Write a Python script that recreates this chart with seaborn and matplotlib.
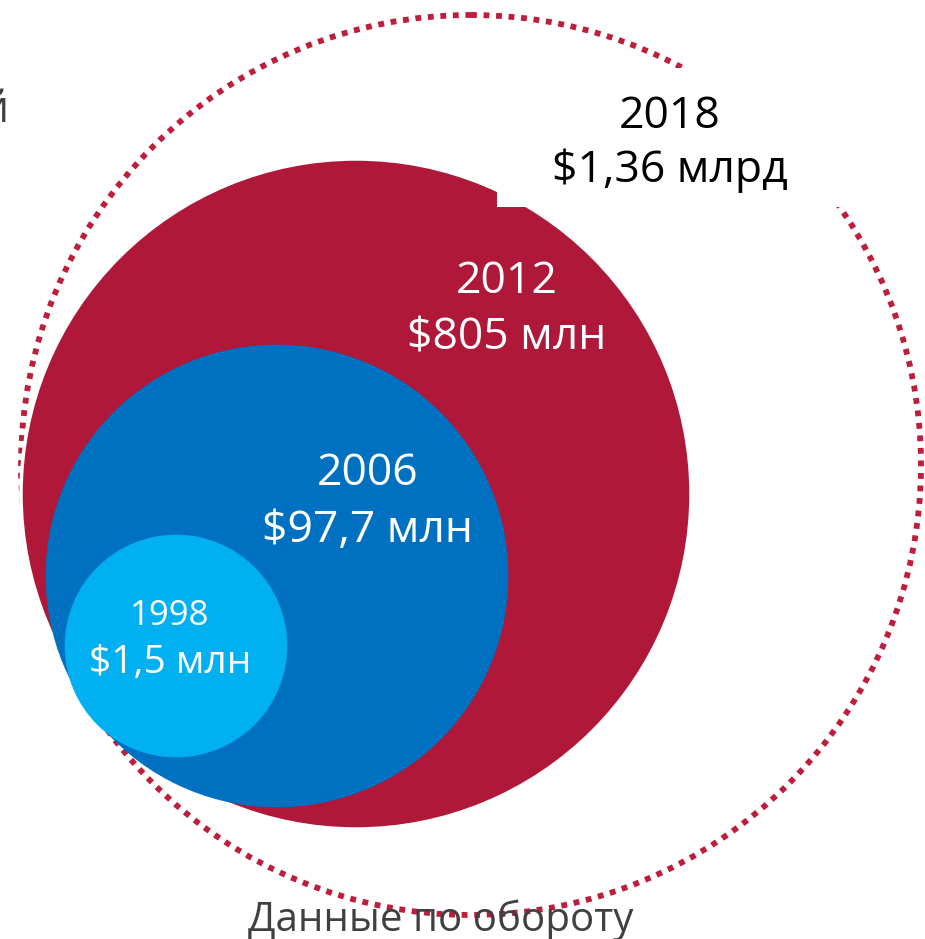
import numpy as np
import pandas as pd
import seaborn as sns
import matplotlib.pyplot as plt
from matplotlib.patches import Circle, Rectangle

sns.set_theme(style="white")
plt.rcParams['font.family'] = ['Open Sans', 'DejaVu Sans']

# данные по обороту (от меньшего круга к большему)
years = ['1998', '2006', '2012', '2018']
turnover = ['$1,5 млн', '$97,7 млн', '$805 млн', '$1,36 млрд']
fill_colors = ['#00B0F0', '#0070C0', '#AF1838', '#BE1E3C']
text_colors = ['white', 'white', 'white', 'black']

# геометрия кругов в пикселях картинки
centers_x = [176, 277, 356, 471]
centers_y = [646, 576, 494, 465]
radii = [111, 231, 335, 450]
label_x = [170, 368, 507, 670]
year_base = [625, 485, 293, 128]
value_base = [673, 542, 350, 182]
label_sizes = [(25, 28), (32, 32), (32, 32), (32, 32)]

df = pd.DataFrame({'year': years, 'turnover': turnover, 'color': fill_colors,
                   'cx': centers_x, 'cy': centers_y, 'r': radii})

fig = plt.figure(figsize=(9.25, 9.39), dpi=100)
ax = fig.add_axes([0, 0, 1, 1])
ax.set_xlim(0, 925)
ax.set_ylim(939, 0)
ax.set_aspect('equal')
ax.axis('off')

# 2018 - пунктирная окружность
last = df.iloc[-1]
ax.add_patch(Circle((last.cx, last.cy), last.r, fill=False, edgecolor=last.color,
                    lw=4.2, linestyle=(0, (1, 1.15)), zorder=1))

# сплошные круги, большой снизу
for i in [2, 1, 0]:
    row = df.iloc[i]
    edge = 'white' if i == 2 else row.color
    ax.add_patch(Circle((row.cx, row.cy), row.r, facecolor=row.color,
                        edgecolor=edge, lw=2.5 if i == 2 else 0.5, zorder=4 - i))

# белая подложка под подписью 2018
ax.add_patch(Rectangle((497, 68), 348, 139, facecolor='white', edgecolor='none', zorder=6))

for i, row in df.iterrows():
    s1, s2 = label_sizes[i]
    ax.text(label_x[i], year_base[i], row.year, ha='center', va='baseline',
            fontsize=s1, color=text_colors[i], zorder=7)
    ax.text(label_x[i], value_base[i], row.turnover, ha='center', va='baseline',
            fontsize=s2, color=text_colors[i], zorder=7)

ax.text(441, 931, 'Данные по обороту', ha='center', va='baseline',
        fontsize=29, color='#404040', zorder=8)
ax.text(9, 122, 'й', ha='right', va='baseline', fontsize=32, color='#404040', zorder=8)

fig.savefig('out.png', dpi=100, facecolor='white')
